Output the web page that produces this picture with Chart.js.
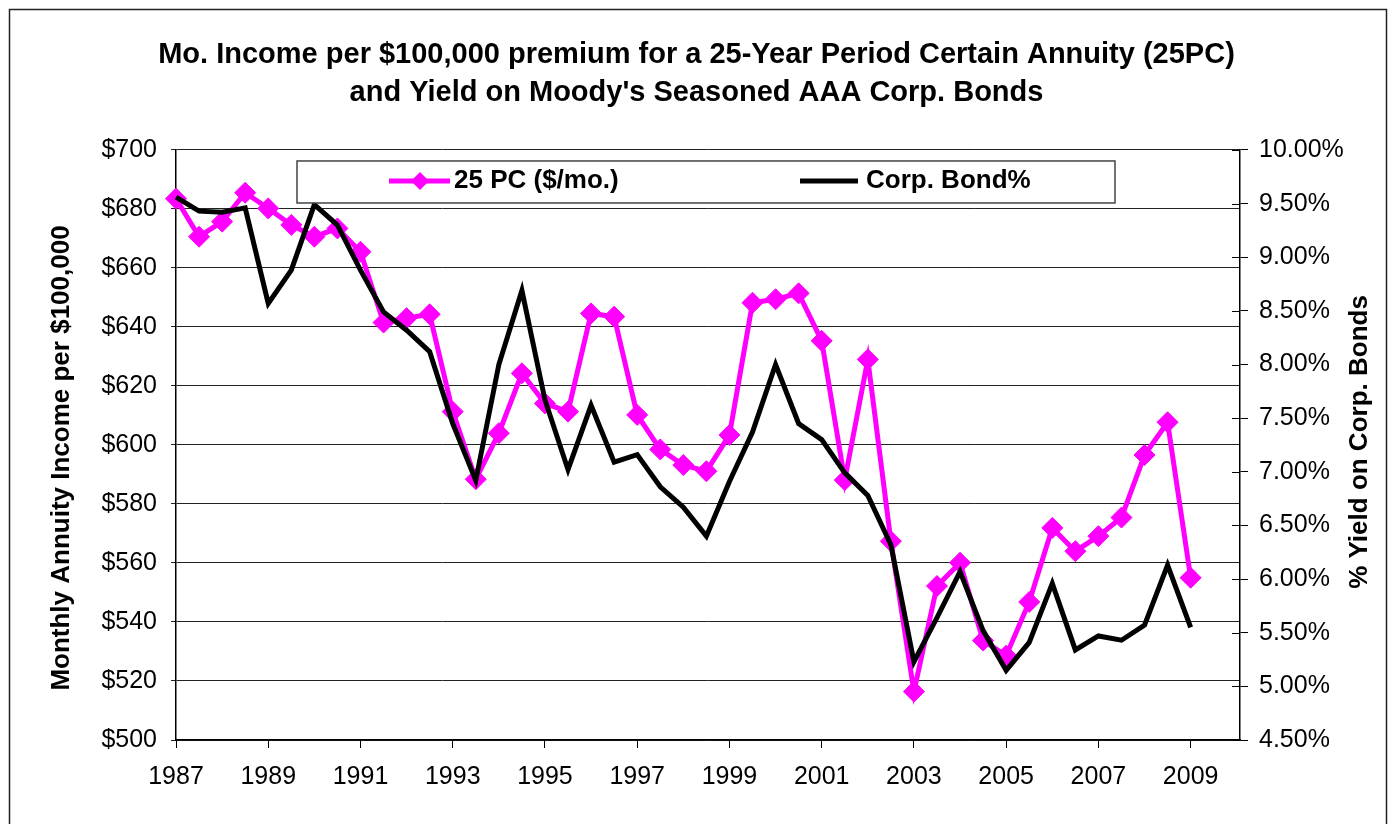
<!DOCTYPE html>
<html lang="en">
<head>
  <meta charset="UTF-8" />
  <title>25PC Annuity Income and AAA Corp. Bond Yield</title>
  <script src="https://cdn.jsdelivr.net/npm/chart.js"></script>
  <style>
    html, body { margin: 0; padding: 0; background: #fff; }
    #wrap { width: 1393px; height: 824px; }
  </style>
</head>
<body>
  <div id="wrap"><canvas id="grafico"></canvas></div>

  <script>
    // half-year observations, 1987 - 2009
    const years = [
      1987, 1987.5, 1988, 1988.5, 1989, 1989.5, 1990, 1990.5, 1991, 1991.5,
      1992, 1992.5, 1993, 1993.5, 1994, 1994.5, 1995, 1995.5, 1996, 1996.5,
      1997, 1997.5, 1998, 1998.5, 1999, 1999.5, 2000, 2000.5, 2001, 2001.5,
      2002, 2002.5, 2003, 2003.5, 2004, 2004.5, 2005, 2005.5, 2006, 2006.5,
      2007, 2007.5, 2008, 2008.5, 2009
    ];
    // 25 PC monthly income ($ per $100,000)
    const annuity = [
      683.5, 670.6, 675.7, 685.5, 680.2, 674.6, 670.6, 673.4, 665.5, 641.5,
      643.0, 644.3, 611.3, 588.4, 604.0, 624.3, 614.1, 611.3, 644.6, 643.5,
      610.2, 598.5, 593.2, 591.1, 603.4, 648.2, 649.4, 651.4, 635.3, 588.1,
      629.0, 567.4, 516.4, 552.2, 560.1, 533.7, 528.6, 546.8, 571.9, 564.0,
      569.1, 575.4, 596.6, 607.7, 555.0
    ];
    // Moody's seasoned AAA yield (%)
    const bondYield = [
      9.56, 9.43, 9.42, 9.46, 8.57, 8.88, 9.49, 9.30, 8.88, 8.49,
      8.32, 8.12, 7.45, 6.92, 8.00, 8.69, 7.67, 7.02, 7.62, 7.09,
      7.16, 6.86, 6.67, 6.40, 6.91, 7.37, 8.00, 7.45, 7.30, 6.99,
      6.78, 6.32, 5.23, 5.64, 6.07, 5.52, 5.15, 5.41, 5.96, 5.34,
      5.47, 5.43, 5.57, 6.13, 5.55
    ];

    const yearTicks = [1987, 1989, 1991, 1993, 1995, 1997, 1999, 2001, 2003, 2005, 2007, 2009];
    const incomeTicks = [500, 520, 540, 560, 580, 600, 620, 640, 660, 680, 700];
    const yieldTicks = [4.5, 5, 5.5, 6, 6.5, 7, 7.5, 8, 8.5, 9, 9.5, 10];

    const titleLines = [
      'Mo. Income per $100,000 premium for a 25-Year Period Certain Annuity (25PC)',
      "and Yield on Moody's Seasoned AAA Corp. Bonds"
    ];
    const legendLabels = ['25 PC ($/mo.)', 'Corp. Bond%'];
    const leftTitle = 'Monthly Annuity Income per $100,000';
    const rightTitle = '% Yield on Corp. Bonds';

    const ROSA = '#ff00ff';
    const FONTE = '"Liberation Sans", Arial, sans-serif';

    Chart.defaults.font.family = FONTE;
    Chart.defaults.color = '#000';

    function pontos(vals) {
      return years.map((y, i) => ({ x: y, y: vals[i] }));
    }

    function losango(ctx, x, y, r) {
      ctx.beginPath();
      ctx.moveTo(x, y - r);
      ctx.lineTo(x + r, y);
      ctx.lineTo(x, y + r);
      ctx.lineTo(x - r, y);
      ctx.closePath();
      ctx.fill();
    }

    // moldura, legenda e titulos dos eixos
    const moldura = {
      id: 'moldura',
      beforeDraw(chart) {
        const ctx = chart.ctx;
        ctx.save();
        ctx.fillStyle = '#fff';
        ctx.fillRect(0, 0, chart.width, chart.height);
        ctx.strokeStyle = '#222';
        ctx.lineWidth = 1.5;
        ctx.strokeRect(9.5, 9.5, 1377, 840);
        ctx.restore();
      },
      afterDatasetsDraw(chart) {
        const ctx = chart.ctx;
        const area = chart.chartArea;
        ctx.save();

        // marcas internas do eixo direito
        const yr = chart.scales.yR;
        ctx.strokeStyle = '#000';
        ctx.lineWidth = 1;
        yr.ticks.forEach(t => {
          const py = Math.round(yr.getPixelForValue(t.value)) + 0.5;
          ctx.beginPath();
          ctx.moveTo(yr.left - 8, py);
          ctx.lineTo(yr.left, py);
          ctx.stroke();
        });

        // legenda
        const lx = area.left + 121, ly = area.top + 11, lw = 818, lh = 42;
        const cy = ly + 20;
        ctx.fillStyle = '#fff';
        ctx.fillRect(lx, ly, lw, lh);
        ctx.strokeStyle = '#444';
        ctx.lineWidth = 1.5;
        ctx.strokeRect(lx, ly, lw, lh);

        ctx.lineWidth = 5;
        ctx.strokeStyle = ROSA;
        ctx.beginPath();
        ctx.moveTo(lx + 92, cy);
        ctx.lineTo(lx + 153, cy);
        ctx.stroke();
        ctx.fillStyle = ROSA;
        losango(ctx, lx + 123, cy, 9);

        ctx.strokeStyle = '#000';
        ctx.beginPath();
        ctx.moveTo(lx + 503, cy);
        ctx.lineTo(lx + 561, cy);
        ctx.stroke();

        ctx.fillStyle = '#000';
        ctx.font = 'bold 26px ' + FONTE;
        ctx.textAlign = 'left';
        ctx.textBaseline = 'middle';
        ctx.fillText(legendLabels[0], lx + 157, cy);
        ctx.fillText(legendLabels[1], lx + 569, cy);

        // titulos dos eixos (ambos de baixo para cima)
        ctx.textAlign = 'center';
        ctx.translate(62, 458);
        ctx.rotate(-Math.PI / 2);
        ctx.fillText(leftTitle, 0, 0);
        ctx.setTransform(1, 0, 0, 1, 0, 0);
        ctx.translate(1360, 442);
        ctx.rotate(-Math.PI / 2);
        ctx.fillText(rightTitle, 0, 0);
        ctx.restore();
      }
    };

    const ctx = document.getElementById('grafico').getContext('2d');

    new Chart(ctx, {
      type: 'line',
      data: {
        datasets: [
          {
            label: legendLabels[0],
            data: pontos(annuity),
            yAxisID: 'yL',
            borderColor: ROSA,
            backgroundColor: ROSA,
            borderWidth: 5,
            pointStyle: 'rectRot',
            pointRadius: 10.5,
            pointBorderWidth: 1,
            pointBackgroundColor: ROSA,
            pointBorderColor: ROSA,
            tension: 0,
            order: 2,
            clip: false
          },
          {
            label: legendLabels[1],
            data: pontos(bondYield),
            yAxisID: 'yR',
            borderColor: '#000',
            backgroundColor: '#000',
            borderWidth: 5,
            pointRadius: 0,
            tension: 0,
            order: 1,
            clip: false
          }
        ]
      },
      options: {
        responsive: true,
        maintainAspectRatio: false,
        animation: false,
        layout: { padding: 0 },
        plugins: {
          legend: { display: false },
          tooltip: { enabled: false },
          title: {
            display: true,
            text: titleLines,
            color: '#000',
            font: { size: 29, weight: 'bold', lineHeight: 1.31 },
            padding: { top: 36, bottom: 38 }
          }
        },
        scales: {
          x: {
            type: 'linear',
            min: 1987,
            max: 2010.07,
            afterBuildTicks: s => { s.ticks = yearTicks.map(v => ({ value: v })); },
            afterFit: s => { s.height = 84; },
            ticks: {
              font: { size: 25 },
              padding: 14,
              maxRotation: 0,
              autoSkip: false,
              callback: v => String(v)
            },
            grid: { drawOnChartArea: false, tickLength: 8, color: '#000' },
            border: { color: '#000', width: 1.5 }
          },
          yL: {
            position: 'left',
            min: 500,
            max: 700,
            afterBuildTicks: s => { s.ticks = incomeTicks.map(v => ({ value: v })); },
            afterFit: s => { s.width = 176; },
            ticks: {
              font: { size: 25 },
              padding: 14,
              callback: v => '$' + v
            },
            grid: { color: '#222', lineWidth: 1, tickLength: 5 },
            border: { color: '#000', width: 1.5 }
          },
          yR: {
            position: 'right',
            min: 4.5,
            max: 10,
            afterBuildTicks: s => { s.ticks = yieldTicks.map(v => ({ value: v })); },
            afterFit: s => { s.width = 153; },
            ticks: {
              font: { size: 25 },
              padding: 11,
              callback: v => v.toFixed(2) + '%'
            },
            grid: { drawOnChartArea: false, tickLength: 8, color: '#000' },
            border: { color: '#000', width: 1.5 }
          }
        }
      },
      plugins: [moldura]
    });
  </script>
</body>
</html>
